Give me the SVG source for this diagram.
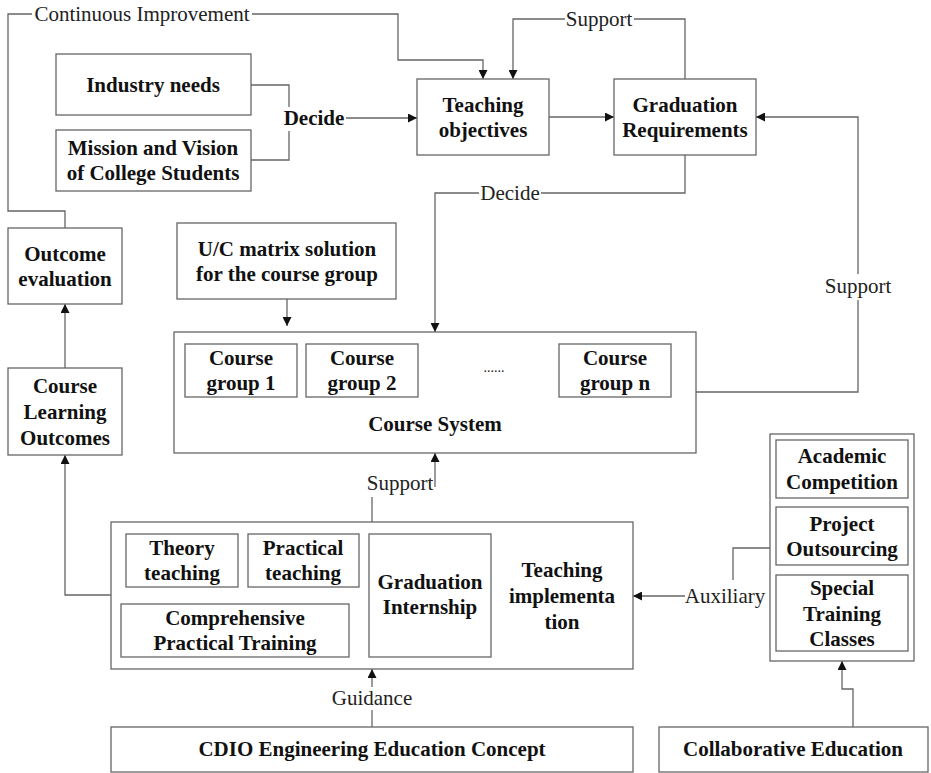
<svg xmlns="http://www.w3.org/2000/svg" width="931" height="773" viewBox="0 0 931 773">
<style>
.box{fill:#fff;stroke:#666;stroke-width:1.3}
.ln{fill:none;stroke:#666;stroke-width:1.3}
.b{font-family:"Liberation Serif",serif;font-weight:bold;font-size:21px;fill:#111;text-anchor:middle}
.l{font-family:"Liberation Serif",serif;font-size:21px;fill:#222;text-anchor:middle}
</style>
<defs>
<marker id="a" viewBox="0 0 10 10" refX="10" refY="5" markerWidth="9" markerHeight="9" markerUnits="userSpaceOnUse" orient="auto"><path d="M0,0L10,5L0,10z" fill="#111"/></marker>
</defs>
<rect width="931" height="773" fill="#fff"/>
<g id="connectors">
<path class="ln" d="M65,228V211H8V14H32"/>
<path class="ln" d="M252,14H398V60H483V79" marker-end="url(#a)"/>
<path class="ln" d="M251,85H289V107M289,131V160H251"/>
<path class="ln" d="M346,118H417" marker-end="url(#a)"/>
<path class="ln" d="M549,117H614" marker-end="url(#a)"/>
<path class="ln" d="M685,79V19H634M565,19H513V79" marker-end="url(#a)"/>
<path class="ln" d="M685,155V193H541M479,193H435V332" marker-end="url(#a)"/>
<path class="ln" d="M696,392H858V300M858,274V117H756" marker-end="url(#a)"/>
<path class="ln" d="M287,299V326" marker-end="url(#a)"/>
<path class="ln" d="M65,368V304" marker-end="url(#a)"/>
<path class="ln" d="M111,595H65V455" marker-end="url(#a)"/>
<path class="ln" d="M372,522V497"/>
<path class="ln" d="M435,487V453" marker-end="url(#a)"/>
<path class="ln" d="M372,727V710"/>
<path class="ln" d="M372,687V669" marker-end="url(#a)"/>
<path class="ln" d="M770,548H733V580"/>
<path class="ln" d="M685,596H633" marker-end="url(#a)"/>
<path class="ln" d="M853,727V689H842V661" marker-end="url(#a)"/>
<text class="l" x="142" y="21">Continuous Improvement</text>
<text class="b" x="314" y="125">Decide</text>
<text class="l" x="599" y="26">Support</text>
<text class="l" x="510" y="200">Decide</text>
<text class="l" x="858" y="293">Support</text>
<text class="l" x="400" y="490">Support</text>
<text class="l" x="372" y="705">Guidance</text>
<text class="l" x="725" y="603">Auxiliary</text>
</g>
<g id="industry-needs"><rect class="box" x="56" y="54" width="195" height="61"/><text class="b" x="153" y="92">Industry needs</text></g>
<g id="mission"><rect class="box" x="56" y="130" width="195" height="61"/><text class="b" x="153" y="155">Mission and Vision</text><text class="b" x="153" y="180">of College Students</text></g>
<g id="teaching-objectives"><rect class="box" x="417" y="79" width="132" height="76"/><text class="b" x="483" y="112">Teaching</text><text class="b" x="483" y="137">objectives</text></g>
<g id="graduation-requirements"><rect class="box" x="614" y="79" width="142" height="76"/><text class="b" x="685" y="112">Graduation</text><text class="b" x="685" y="137">Requirements</text></g>
<g id="outcome-evaluation"><rect class="box" x="8" y="228" width="114" height="76"/><text class="b" x="65" y="261">Outcome</text><text class="b" x="65" y="286">evaluation</text></g>
<g id="course-learning-outcomes"><rect class="box" x="8" y="368" width="114" height="87"/><text class="b" x="65" y="393">Course</text><text class="b" x="65" y="419">Learning</text><text class="b" x="65" y="445">Outcomes</text></g>
<g id="uc-matrix"><rect class="box" x="177" y="223" width="219" height="76"/><text class="b" x="287" y="256">U/C matrix solution</text><text class="b" x="287" y="281">for the course group</text></g>
<g id="course-system"><rect class="box" x="174" y="332" width="522" height="121"/>
<rect class="box" x="185" y="344" width="112" height="53"/><text class="b" x="241" y="365">Course</text><text class="b" x="241" y="390">group 1</text>
<rect class="box" x="306" y="344" width="112" height="53"/><text class="b" x="362" y="365">Course</text><text class="b" x="362" y="390">group 2</text>
<text class="l" x="494" y="372" style="font-size:14px">......</text>
<rect class="box" x="559" y="344" width="112" height="53"/><text class="b" x="615" y="365">Course</text><text class="b" x="615" y="390">group n</text>
<text class="b" x="435" y="431">Course System</text></g>
<g id="teaching-implementation"><rect class="box" x="111" y="522" width="522" height="147"/>
<rect class="box" x="126" y="534" width="112" height="53"/><text class="b" x="182" y="555">Theory</text><text class="b" x="182" y="580">teaching</text>
<rect class="box" x="248" y="534" width="111" height="53"/><text class="b" x="303" y="555">Practical</text><text class="b" x="303" y="580">teaching</text>
<rect class="box" x="121" y="604" width="228" height="53"/><text class="b" x="235" y="625">Comprehensive</text><text class="b" x="235" y="650">Practical Training</text>
<rect class="box" x="369" y="534" width="122" height="123"/><text class="b" x="430" y="589">Graduation</text><text class="b" x="430" y="614">Internship</text>
<text class="b" x="562" y="577">Teaching</text><text class="b" x="562" y="603">implementa</text><text class="b" x="562" y="629">tion</text></g>
<g id="collaborative-group"><rect class="box" x="770" y="434" width="144" height="227"/>
<rect class="box" x="776" y="440" width="132" height="58"/><text class="b" x="842" y="463">Academic</text><text class="b" x="842" y="489">Competition</text>
<rect class="box" x="776" y="507" width="132" height="58"/><text class="b" x="842" y="531">Project</text><text class="b" x="842" y="556">Outsourcing</text>
<rect class="box" x="776" y="575" width="132" height="76"/><text class="b" x="842" y="595">Special</text><text class="b" x="842" y="621">Training</text><text class="b" x="842" y="646">Classes</text></g>
<g id="cdio"><rect class="box" x="111" y="727" width="522" height="45"/><text class="b" x="372" y="756">CDIO Engineering Education Concept</text></g>
<g id="collaborative-education"><rect class="box" x="659" y="727" width="269" height="45"/><text class="b" x="793" y="756">Collaborative Education</text></g>
</svg>
